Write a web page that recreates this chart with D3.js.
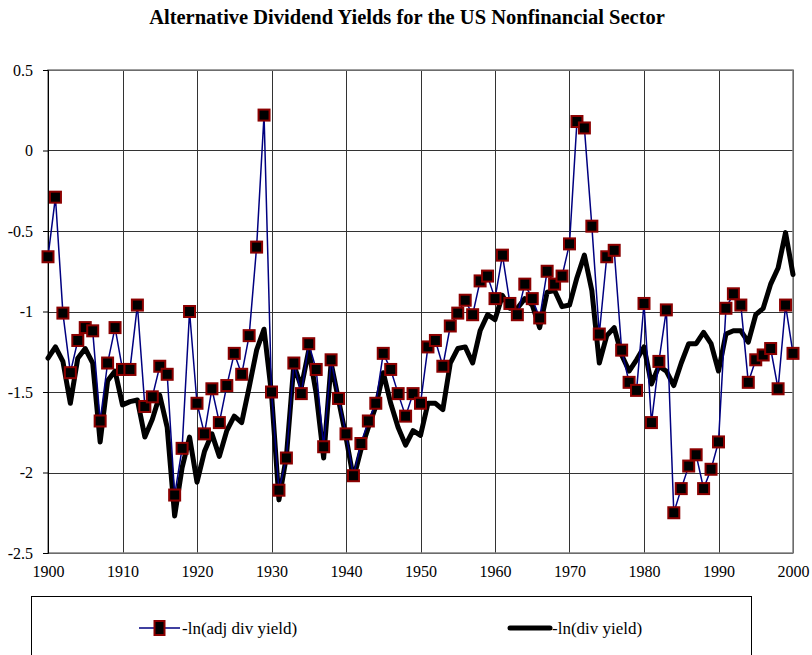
<!DOCTYPE html>
<html>
<head>
<meta charset="utf-8">
<script src="https://cdn.jsdelivr.net/npm/d3@7"></script>
<style>
  html, body { margin: 0; padding: 0; background: #fff; }
  svg { display: block; font-family: "Liberation Serif", "Times New Roman", serif; }
</style>
</head>
<body>
<svg id="chart" width="812" height="655"></svg>
<script>
const title = "Alternative Dividend Yields for the US Nonfinancial Sector";
const years = d3.range(1900, 2001);
const adjDivYield = [
  -0.66, -0.29, -1.01, -1.38, -1.18, -1.10, -1.12, -1.68, -1.32, -1.10,
  -1.36, -1.36, -0.96, -1.59, -1.53, -1.34, -1.39, -2.14, -1.85, -1.00,
  -1.57, -1.76, -1.48, -1.69, -1.46, -1.26, -1.39, -1.15, -0.60, 0.22,
  -1.50, -2.11, -1.91, -1.32, -1.51, -1.20, -1.36, -1.84, -1.30, -1.54,
  -1.76, -2.02, -1.82, -1.68, -1.57, -1.26, -1.36, -1.51, -1.65, -1.51,
  -1.57, -1.22, -1.18, -1.34, -1.09, -1.01, -0.93, -1.02, -0.81, -0.78,
  -0.92, -0.65, -0.95, -1.02, -0.83, -0.92, -1.04, -0.75, -0.83, -0.78,
  -0.58, 0.18, 0.14, -0.47, -1.14, -0.66, -0.62, -1.24, -1.44, -1.49,
  -0.95, -1.69, -1.31, -0.99, -2.25, -2.10, -1.96, -1.89, -2.10, -1.98,
  -1.81, -0.98, -0.89, -0.96, -1.44, -1.30, -1.27, -1.23, -1.48, -0.96,
  -1.26
];
const divYield = [
  -1.29, -1.22, -1.31, -1.57, -1.29, -1.23, -1.32, -1.81, -1.43, -1.37,
  -1.58, -1.56, -1.55, -1.78, -1.67, -1.52, -1.72, -2.27, -1.97, -1.78,
  -2.06, -1.87, -1.76, -1.90, -1.74, -1.65, -1.69, -1.47, -1.24, -1.11,
  -1.51, -2.17, -1.90, -1.33, -1.47, -1.24, -1.51, -1.91, -1.32, -1.55,
  -1.78, -2.04, -1.86, -1.72, -1.59, -1.38, -1.57, -1.72, -1.83, -1.74,
  -1.77, -1.57, -1.57, -1.61, -1.32, -1.23, -1.22, -1.32, -1.12, -1.02,
  -1.05, -0.90, -0.98, -0.98, -0.92, -0.96, -1.10, -0.88, -0.87, -0.97,
  -0.96, -0.79, -0.65, -0.87, -1.32, -1.15, -1.10, -1.27, -1.37, -1.30,
  -1.22, -1.45, -1.34, -1.37, -1.46, -1.32, -1.20, -1.20, -1.13, -1.20,
  -1.37, -1.14, -1.12, -1.12, -1.19, -1.02, -0.98, -0.83, -0.73, -0.51,
  -0.77
];
const yTicks = [0.5, 0, -0.5, -1, -1.5, -2, -2.5];
const xTicks = d3.range(1900, 2001, 10);
const seriesNames = ["-ln(adj div yield)", "-ln(div yield)"];

const FONT = "'Liberation Serif', 'Times New Roman', serif";
const svg = d3.select("#chart");
const L = 48, R = 793, T = 70, B = 553;
const x = d3.scaleLinear().domain([1900, 2000]).range([L, R]);
const y = d3.scaleLinear().domain([-2.5, 0.5]).range([B, T]);

svg.append("text")
  .attr("x", 407).attr("y", 24)
  .attr("text-anchor", "middle")
  .attr("font-weight", "bold")
  .attr("font-size", 20.5)
  .style("font-family", FONT)
  .text(title);

// gridlines
const grid = svg.append("g").attr("shape-rendering", "crispEdges");
grid.selectAll("line.h").data(yTicks).join("line")
  .attr("x1", L).attr("x2", R)
  .attr("y1", d => Math.round(y(d)) + 0.5).attr("y2", d => Math.round(y(d)) + 0.5)
  .attr("stroke", "#333").attr("stroke-width", 1);
grid.selectAll("line.v").data(xTicks).join("line")
  .attr("y1", T).attr("y2", B)
  .attr("x1", d => Math.round(x(d)) + 0.5).attr("x2", d => Math.round(x(d)) + 0.5)
  .attr("stroke", "#333").attr("stroke-width", 1);

// frame
svg.append("rect")
  .attr("x", L).attr("y", T).attr("width", R - L).attr("height", B - T)
  .attr("fill", "none").attr("stroke", "#808080").attr("stroke-width", 1.5);

// y axis
const yAxis = d3.axisLeft(y).tickValues(yTicks).tickSize(5).tickPadding(10)
  .tickFormat(d => d3.format("")(d).replace("\u2212", "-"));
const ya = svg.append("g").attr("transform", `translate(${L},0)`).call(yAxis);
ya.attr("font-family", null).attr("font-size", null);
ya.select(".domain").attr("stroke", "#000");
ya.selectAll("text").attr("font-size", 16).style("font-family", FONT).attr("fill", "#000");

// x axis labels
const xAxis = d3.axisBottom(x).tickValues(xTicks).tickSize(0).tickPadding(13).tickFormat(d3.format("d"));
const xa = svg.append("g").attr("transform", `translate(0,${B})`).call(xAxis);
xa.attr("font-family", null).attr("font-size", null);
xa.select(".domain").remove();
xa.selectAll("text").attr("font-size", 16).style("font-family", FONT).attr("fill", "#000");

// div yield line (thick black)
const line = (vals) => d3.line().x((d, i) => x(years[i])).y(d => y(d))(vals);
svg.append("path")
  .attr("d", line(divYield))
  .attr("fill", "none").attr("stroke", "#000").attr("stroke-width", 5)
  .attr("stroke-linejoin", "round").attr("stroke-linecap", "round");

// adj series
svg.append("path")
  .attr("d", line(adjDivYield))
  .attr("fill", "none").attr("stroke", "#000080").attr("stroke-width", 1.5);
const ms = 11;
svg.append("g").selectAll("rect").data(adjDivYield).join("rect")
  .attr("x", (d, i) => x(years[i]) - ms / 2)
  .attr("y", d => y(d) - ms / 2)
  .attr("width", ms).attr("height", ms)
  .attr("fill", "#000").attr("stroke", "#8B0000").attr("stroke-width", 2);

// legend
const lg = svg.append("g");
lg.append("rect").attr("x", 31.5).attr("y", 596.5).attr("width", 720).attr("height", 70)
  .attr("fill", "#fff").attr("stroke", "#000").attr("stroke-width", 1);
lg.append("line").attr("x1", 139).attr("x2", 180).attr("y1", 628).attr("y2", 628)
  .attr("stroke", "#000080").attr("stroke-width", 1.5);
lg.append("rect").attr("x", 159.5 - 5).attr("y", 628 - 7).attr("width", 10).attr("height", 14)
  .attr("fill", "#000").attr("stroke", "#8B0000").attr("stroke-width", 2);
lg.append("text").attr("x", 182).attr("y", 634).attr("font-size", 17).style("font-family", FONT).text(seriesNames[0]);
lg.append("line").attr("x1", 510).attr("x2", 550).attr("y1", 628).attr("y2", 628)
  .attr("stroke", "#000").attr("stroke-width", 5).attr("stroke-linecap", "round");
lg.append("text").attr("x", 552).attr("y", 634).attr("font-size", 17).style("font-family", FONT).text(seriesNames[1]);
</script>
</body>
</html>
